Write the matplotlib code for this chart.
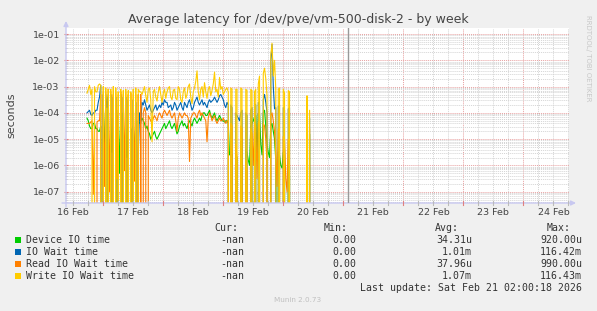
import numpy as np
import matplotlib
matplotlib.use("Agg")
import matplotlib.pyplot as plt
from matplotlib.patches import Rectangle
from matplotlib.ticker import LogLocator, NullFormatter

Z = float("-inf")   # zero latency (drawn on the floor)
N = float("nan")    # no data

# half-hourly samples, first one at 16 Feb 17:30 (days since 16 Feb 00:00)
start_day = 0.728
step_day = 1 / 48

# values are log10(seconds)
write_wait = (
    [-3.25, -3.1, -2.95, -3.3, -3.1, Z, -3.0, -3.2, -3.2, -2.95, -2.9]
    + [-2.95, Z, -3.0, Z, -3.05, Z, -3.1, Z, -3.1, Z, -3.0, Z, -3.05, Z, -3.2, Z,
       -3.1, Z, -3.15, Z, -3.1, Z, -3.15, Z, -3.2, Z, -3.1, Z, -3.05, Z, -3.1, -3.2]
    + [-3.2, -3.3, -3.15, -3.0, -3.35, -3.6, -3.1, -3.05, -3.5, -5.1, -3.2, -3.1, -3.4, -3.55, -3.2, -3.0,
       -3.3, -3.6, -3.25, -3.1, -3.45, -3.2, -3.05, -3.0, -3.4, -3.5, -3.15, -3.1, -3.45, -3.5, -3.0, -3.1,
       -3.5, -3.6, -3.2, -3.05, -3.45, -3.3, -3.0, -2.9, -3.4, -3.65, -3.2, -3.05, -2.8, -2.4, -3.2, -3.5,
       -3.1, -3.0, -3.4, -2.85, -3.2, -3.45, -3.1, -3.0, -3.35, -3.15, -2.9, -2.45, -3.2, -3.1, -3.4, -2.65,
       -3.1, -3.0, -3.3, -3.2, -3.1, -3.05, -3.2]
    + [Z, -3.05, -3.1, Z, Z, -3.1, -3.1, Z, Z, -3.05, -3.1, Z, Z, -3.1, -3.15, Z, Z, -3.1, -3.15, Z,
       -3.2, -3.1, Z, -2.9, -2.6, Z, Z, -2.5, -2.3, -2.7, -3.35, Z, Z, -1.8, -1.35, -2.6, -2.0, -3.1,
       Z, -3.1, -3.05, Z, Z, -3.1, -3.25, Z, Z, -3.15, -3.2]
    + [Z] + [N] * 11 + [Z, -3.35, Z, -3.9] + [Z] * 30)
io_wait = (
    [-4.0, -3.95, -3.9, -4.05, -4.1, -4.0, -4.0, -3.9, -3.9, -3.6, -3.4]
    + [-2.95, Z, -3.3, Z, -3.3, -3.8, -3.3, Z, -3.3, Z, -3.4, Z, -3.4, Z, -4.1, Z,
       -3.3, Z, -3.4, Z, -3.4, Z, -3.5, Z, -4.6, Z, -3.5, Z, -3.6, Z, -5.5, -4.0]
    + [-4.4, -3.6, -3.7, -3.5, -3.7, -3.9, -3.8, -3.7, -3.9, -4.0, -3.9, -3.8, -3.7, -3.9, -3.8, -3.7,
       -3.8, -3.6, -3.7, -3.5, -3.6, -3.6, -3.8, -3.75, -3.7, -3.9, -3.8, -3.6, -3.7, -3.9, -3.8, -3.7,
       -3.6, -3.8, -3.9, -3.6, -3.7, -3.8, -3.6, -3.5, -3.7, -3.9, -3.8, -3.6, -3.5, -3.4, -3.6, -3.7,
       -3.6, -3.5, -3.7, -3.6, -3.7, -3.8, -3.6, -3.5, -3.6, -3.55, -3.5, -3.4, -3.5, -3.6, -3.5, -3.35,
       -3.3, -3.4, -3.5, -3.7, -3.8, -3.6, -3.7]
    + [Z, -3.7, -3.8, Z, Z, -4.0, -4.1, -4.2, -4.3, -4.0, -3.9, Z, Z, -4.0, -4.1, Z, Z, -3.9, -3.8, Z,
       -3.65, -3.7, Z, -3.6, -3.7, Z, Z, -3.5, -3.3, -3.6, -4.0, Z, Z, -2.0, -1.4, -3.0, -3.85, -3.8,
       Z, -3.75, -3.7, Z, Z, -3.8, -3.9, Z, Z, -3.85, -3.8]
    + [Z] + [N] * 11 + [Z, -3.9, Z, -4.2] + [Z] * 30)
read_wait = (
    [-4.4, -4.4, -4.4, -4.35, -4.3, -7.1, -4.35, Z, -4.35, -4.3, -4.3]
    + [-3.3, Z, -3.2, -6.8, -3.2, Z, -3.1, -7.0, -3.2, Z, -3.3, Z, -3.2, -6.5, -3.3, Z,
       -3.2, Z, -3.3, -6.2, -3.2, Z, -3.3, Z, -3.25, Z, -3.3, -6.6, -3.3, Z, -3.3, Z]
    + [-3.3, Z, -4.0, -3.8, -4.0, Z, -4.1, -4.2, -4.3, -4.4, -4.2, -4.1, -4.2, -4.3, -4.1, -4.0,
       -4.1, -4.2, -4.0, -3.9, -4.0, -4.1, -4.0, -3.9, -4.1, -4.2, -4.1, -4.0, -4.3, -4.7, -4.2, -4.0,
       -4.1, -4.2, -4.1, -4.0, -4.1, -4.1, -4.2, -5.85, -4.2, -4.1, -4.0, -4.0, -4.1, -4.2, -4.0, -3.9,
       -4.1, -4.0, -4.1, -4.2, -4.3, -5.1, -4.2, -4.0, -4.1, -4.3, -4.2, -4.1, -4.3, -4.4, -4.3, -4.2,
       -4.3, -4.3, -4.2, -4.3, -4.4, -4.3, -4.3]
    + [Z, -4.4, -4.5, Z, Z, -5.2, -5.7, Z, Z, -4.5, -4.6, Z, Z, -5.8, -6.2, Z, Z, -4.6, -4.8, -6.0,
       -4.4, -4.5, -6.5, -4.4, -4.3, Z, Z, -4.4, -4.5, -5.0, -5.9, Z, Z, -4.1, -4.0, -4.3, -4.7, -5.5,
       -6.8, -4.6, -4.8, Z, Z, -4.9, -5.0, -6.5, -7.0, -5.0, -5.2]
    + [Z] + [N] * 11 + [Z, -4.3, Z, -4.6] + [Z] * 30)
device_io = (
    [-4.2, -4.3, -4.5, -4.6, -4.6, -4.4, -4.4, -4.6, -4.6, -4.7, -4.7]
    + [-4.5, Z, -3.5, -6.0, -3.5, Z, -3.4, Z, -4.2, -5.5, -4.2, Z, -5.0, Z, -3.9, -6.3,
       -4.1, Z, -4.0, Z, -4.6, -5.7, -4.2, Z, -4.6, Z, -4.5, -5.7, -4.3, Z, -4.3, -4.4]
    + [-4.3, -4.2, -4.3, -4.4, -4.6, -4.5, -4.7, -4.8, -5.0, -4.9, -4.8, -4.7, -4.9, -5.0, -4.9, -4.8,
       -4.7, -4.6, -4.5, -4.4, -4.6, -4.5, -4.4, -4.3, -4.5, -4.6, -4.5, -4.4, -4.6, -4.8, -4.7, -4.5,
       -4.4, -4.3, -4.5, -4.4, -4.5, -4.6, -4.4, -4.3, -4.4, -4.5, -4.3, -4.2, -4.3, -4.4, -4.3, -4.2,
       -4.3, -4.1, -4.0, -4.0, -4.1, -4.1, -4.0, -3.9, -4.1, -4.2, -4.1, -4.0, -4.2, -4.3, -4.2, -4.1,
       -4.2, -4.3, -4.3, -4.35, -4.3, -4.3, -4.4]
    + [-5.6, -5.5, -5.6, Z, Z, -5.6, -5.7, Z, Z, -5.1, -5.0, Z, Z, -5.4, -5.5, -5.8, -6.0, -4.5, -4.4, -4.3,
       -4.15, -4.1, -5.8, -4.05, -4.0, -5.2, -5.6, -4.0, -3.9, -4.5, -5.2, -5.5, -5.7, -4.5, -4.4, -4.7,
       -5.0, -5.8, Z, -5.5, -5.6, -6.0, -6.1, -5.5, -5.4, Z, Z, -6.0, -6.4]
    + [Z] + [N] * 11 + [Z, -4.5, Z, -4.8] + [Z] * 30)

labels = ["Device IO time", "IO Wait time", "Read IO Wait time", "Write IO Wait time"]
colors = ["#00cc00", "#0066b3", "#ff8000", "#ffcc00"]
cur = ["-nan", "-nan", "-nan", "-nan"]
mins = ["0.00", "0.00", "0.00", "0.00"]
avgs = ["34.31u", "1.01m", "37.96u", "1.07m"]
maxs = ["920.00u", "116.42m", "990.00u", "116.43m"]
day_labels = ["16 Feb", "17 Feb", "18 Feb", "19 Feb", "20 Feb", "21 Feb", "22 Feb", "23 Feb", "24 Feb"]
now_day = 5 + 2 / 24 + 18 / 86400

W, H = 597, 311
fig = plt.figure(figsize=(W / 100, H / 100), dpi=100, facecolor="#f0f0f0")
ax = fig.add_axes([66 / W, 1 - 203 / H, 503 / W, 175 / H])
ax.set_facecolor("white")
for s in ax.spines.values():
    s.set_visible(False)

ax.set_yscale("log", nonpositive="clip")
ax.set_xlim(0.378, 8.76)
ax.set_ylim(10 ** -7.43, 10 ** -0.77)

# grid
mgrid = "#e8a0a0"
grid = "#d4d4d4"
dots = (0, (1, 1))
for k in range(2, 36):
    ax.axvline(k * 0.25, color=mgrid if k % 4 == 0 else grid, lw=0.7, ls=dots, zorder=0)
ax.yaxis.set_minor_locator(LogLocator(base=10, subs=range(2, 10), numticks=20))
ax.yaxis.set_minor_formatter(NullFormatter())
ax.yaxis.grid(True, which="major", color=mgrid, lw=0.7, ls=dots, zorder=0)
ax.yaxis.grid(True, which="minor", color=grid, lw=0.7, ls=dots, zorder=0)
ax.set_axisbelow(True)

# series, drawn in munin order
t = start_day + step_day * np.arange(len(write_wait))
for vals, c in zip([device_io, io_wait, read_wait, write_wait], colors):
    ax.plot(t, 10 ** np.array(vals), color=c, lw=0.8, zorder=3)

ax.axvline(now_day, color="#999999", lw=1, zorder=4)

# ticks
ax.set_xticks(np.arange(len(day_labels)) + 0.5, day_labels)
ax.tick_params(axis="x", length=0, pad=3.5, labelsize=6.8, labelcolor="#444444")
ax.set_yticks([10.0 ** -e for e in range(7, 0, -1)], ["1e-%02d" % e for e in range(7, 0, -1)])
ax.tick_params(axis="y", which="major", direction="inout", length=3, width=0.8,
               color="#e08080", pad=3, labelsize=6.8, labelcolor="#444444")
ax.tick_params(axis="y", which="minor", direction="inout", length=2, width=0.6, color="#bbbbbb")
for k in range(2, 36):
    ax.plot([k * 0.25] * 2, [-2 / 175, 2 / 175], transform=ax.get_xaxis_transform(),
            color="#e08080" if k % 4 == 0 else "#bbbbbb", lw=0.8, clip_on=False, zorder=5)

# axis lines with arrows
axis_col = "#c8c8f0"
ax.annotate("", xy=(576 / W, 1 - 203 / H), xytext=(62 / W, 1 - 203 / H), xycoords="figure fraction",
            arrowprops=dict(arrowstyle="-|>", color=axis_col, lw=1, mutation_scale=7, shrinkA=0, shrinkB=0))
ax.annotate("", xy=(66 / W, 1 - 21 / H), xytext=(66 / W, 1 - 207 / H), xycoords="figure fraction",
            arrowprops=dict(arrowstyle="-|>", color=axis_col, lw=1, mutation_scale=7, shrinkA=0, shrinkB=0))

# texts
fig.text(0.5, 1 - 23.5 / H, "Average latency for /dev/pve/vm-500-disk-2 - by week",
         ha="center", va="baseline", fontsize=9, color="#444444")
fig.text(11 / W, 1 - 115 / H, "seconds", rotation=90, ha="center", va="center", fontsize=8, color="#444444")
fig.text(588 / W, 1 - 58 / H, "RRDTOOL/ TOBI OETIKER", rotation=270, ha="center", va="center",
         fontsize=5, color="#c8c8c8")

mono = dict(family="DejaVu Sans Mono", fontsize=7.1, color="#333333", va="center")
for txt, x in zip(["Cur:", "Min:", "Avg:", "Max:"], [238, 348, 459, 571]):
    fig.text(x / W, 1 - 228 / H, txt, ha="right", **mono)
for i in range(4):
    y = 240 + 12 * i
    fig.patches.append(Rectangle((14.5 / W, 1 - (y + 3) / H), 6 / W, 6 / H,
                                 transform=fig.transFigure, facecolor=colors[i], edgecolor="none"))
    fig.text(26 / W, 1 - y / H, labels[i], ha="left", **mono)
    for txt, x in zip([cur[i], mins[i], avgs[i], maxs[i]], [244, 356, 472, 582]):
        fig.text(x / W, 1 - y / H, txt, ha="right", **mono)
fig.text(582 / W, 1 - 288 / H, "Last update: Sat Feb 21 02:00:18 2026", ha="right", **mono)
fig.text(298 / W, 1 - 300 / H, "Munin 2.0.73", ha="center", va="center", fontsize=5.2, color="#c0c0c0")

fig.savefig("out.png", dpi=100, facecolor=fig.get_facecolor())
